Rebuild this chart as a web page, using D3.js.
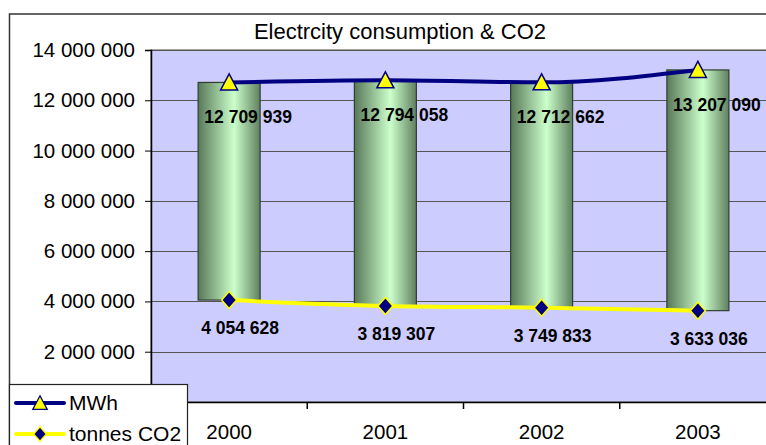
<!DOCTYPE html>
<html>
<head>
<meta charset="utf-8">
<script src="https://cdn.jsdelivr.net/npm/d3@7"></script>
<style>
	body { margin: 0; background: #fff; }
	svg { display: block; font-family: "Liberation Sans", Arial, sans-serif; }
</style>
</head>
<body>
<div id="chart"></div>
<script>
// data
const years = ["2000", "2001", "2002", "2003"];
const mwh = [12709939, 12794058, 12712662, 13207090];
const co2 = [4054628, 3819307, 3749833, 3633036];
const yTicks = [2000000, 4000000, 6000000, 8000000, 10000000, 12000000, 14000000];
const title = "Electrcity consumption & CO2";
const seriesNames = ["MWh", "tonnes CO2"];

const width = 766;
const height = 445;
const plot = { left: 151, right: 776, top: 50, bottom: 402 };

const svg = d3.select("#chart")
	.append("svg")
	.attr("width", width)
	.attr("height", height);

const fmt = (v) => d3.format(",")(v).replace(/,/g, " ");

const x = d3.scaleBand()
	.domain(years)
	.range([plot.left, plot.right]);

const y = d3.scaleLinear()
	.domain([0, 14000000])
	.range([plot.bottom, plot.top]);

// gradient for the cylinders
const defs = svg.append("defs");
const grad = defs.append("linearGradient")
	.attr("id", "barGrad")
	.attr("x1", "0%").attr("x2", "100%")
	.attr("y1", "0%").attr("y2", "0%");
grad.append("stop").attr("offset", "0%").attr("stop-color", "#587858");
grad.append("stop").attr("offset", "58%").attr("stop-color", "#ccffcc");
grad.append("stop").attr("offset", "100%").attr("stop-color", "#5f805f");

// outer chart frame
svg.append("rect")
	.attr("x", 9.5)
	.attr("y", 14)
	.attr("width", 800)
	.attr("height", 500)
	.attr("fill", "#fff")
	.attr("stroke", "#333")
	.attr("stroke-width", 1.5);

// title
svg.append("text")
	.attr("x", 400)
	.attr("y", 39)
	.attr("text-anchor", "middle")
	.attr("font-size", 22)
	.attr("fill", "#000")
	.text(title);

// plot area
svg.append("rect")
	.attr("x", plot.left)
	.attr("y", plot.top)
	.attr("width", plot.right - plot.left)
	.attr("height", plot.bottom - plot.top)
	.attr("fill", "#ccccff")
	.attr("stroke", "#888")
	.attr("stroke-width", 1.5);

// gridlines
svg.append("g")
	.selectAll("line")
	.data(yTicks)
	.enter()
	.append("line")
	.attr("x1", plot.left)
	.attr("x2", plot.right)
	.attr("y1", (d) => Math.round(y(d)) + 0.5)
	.attr("y2", (d) => Math.round(y(d)) + 0.5)
	.attr("stroke", "#555")
	.attr("stroke-width", 1);

// y axis
const yAxis = svg.append("g")
	.attr("transform", "translate(" + plot.left + ",0)")
	.call(d3.axisLeft(y)
		.tickValues(yTicks)
		.tickSize(6)
		.tickPadding(10)
		.tickFormat(fmt));
yAxis.select(".domain").attr("stroke", "#000").attr("stroke-width", 1.5);
yAxis.selectAll(".tick line").attr("stroke", "#000");
yAxis.selectAll("text")
	.attr("font-size", 20.5)
	.attr("font-family", "Liberation Sans, Arial, sans-serif")
	.attr("fill", "#000");

// x axis
const xAxis = svg.append("g")
	.attr("transform", "translate(0," + plot.bottom + ")")
	.call(d3.axisBottom(x).tickSize(0).tickPadding(22));
xAxis.select(".domain").attr("stroke", "#000").attr("stroke-width", 1.5);
xAxis.selectAll("text")
	.attr("font-size", 20.5)
	.attr("font-family", "Liberation Sans, Arial, sans-serif")
	.attr("fill", "#000");

// category separators on the x axis
svg.append("g")
	.selectAll("line")
	.data(years)
	.enter()
	.append("line")
	.attr("x1", (d) => x(d))
	.attr("x2", (d) => x(d))
	.attr("y1", plot.bottom)
	.attr("y2", plot.bottom + 7)
	.attr("stroke", "#000")
	.attr("stroke-width", 1.5);

// floating cylinders from CO2 to MWh
const barW = 62;
svg.append("g")
	.selectAll("rect")
	.data(years)
	.enter()
	.append("rect")
	.attr("x", (d) => x(d) + x.bandwidth() / 2 - barW / 2)
	.attr("width", barW)
	.attr("y", (d, i) => y(mwh[i]))
	.attr("height", (d, i) => y(co2[i]) - y(mwh[i]))
	.attr("fill", "url(#barGrad)")
	.attr("stroke", "#2f3f2f")
	.attr("stroke-width", 1.2);

const cx = (d) => x(d) + x.bandwidth() / 2;

// lines
const line = d3.line()
	.x((d) => cx(d.year))
	.y((d) => y(d.value))
	.curve(d3.curveMonotoneX);

const mwhPts = years.map((yr, i) => ({ year: yr, value: mwh[i] }));
const co2Pts = years.map((yr, i) => ({ year: yr, value: co2[i] }));

svg.append("path")
	.datum(co2Pts)
	.attr("d", line)
	.attr("fill", "none")
	.attr("stroke", "#ffff00")
	.attr("stroke-width", 4);

svg.append("path")
	.datum(mwhPts)
	.attr("d", line)
	.attr("fill", "none")
	.attr("stroke", "#000080")
	.attr("stroke-width", 4);

// markers
const triangle = "M0,-8.5 L8.5,7.5 L-8.5,7.5 Z";
const diamond = "M0,-8.5 L7.5,0 L0,8.5 L-7.5,0 Z";

svg.append("g")
	.selectAll("path")
	.data(mwhPts)
	.enter()
	.append("path")
	.attr("d", triangle)
	.attr("transform", (d) => "translate(" + cx(d.year) + "," + y(d.value) + ")")
	.attr("fill", "#ffff00")
	.attr("stroke", "#000080")
	.attr("stroke-width", 1.5);

svg.append("g")
	.selectAll("path")
	.data(co2Pts)
	.enter()
	.append("path")
	.attr("d", diamond)
	.attr("transform", (d) => "translate(" + cx(d.year) + "," + y(d.value) + ")")
	.attr("fill", "#000080")
	.attr("stroke", "#ffff00")
	.attr("stroke-width", 1.5);

// data labels
svg.append("g")
	.selectAll("text")
	.data(mwhPts)
	.enter()
	.append("text")
	.attr("x", (d) => cx(d.year) + 19)
	.attr("y", (d) => y(d.value) + 41)
	.attr("text-anchor", "middle")
	.attr("font-size", 17.5)
	.attr("font-weight", "bold")
	.text((d) => fmt(d.value));

svg.append("g")
	.selectAll("text")
	.data(co2Pts)
	.enter()
	.append("text")
	.attr("x", (d) => cx(d.year) + 11)
	.attr("y", (d) => y(d.value) + 34)
	.attr("text-anchor", "middle")
	.attr("font-size", 17.5)
	.attr("font-weight", "bold")
	.text((d) => fmt(d.value));

// legend
const legend = svg.append("g");
legend.append("rect")
	.attr("x", 9.5)
	.attr("y", 384.5)
	.attr("width", 178)
	.attr("height", 80)
	.attr("fill", "#fff")
	.attr("stroke", "#222")
	.attr("stroke-width", 1.2);

const legendItems = [
	{ name: seriesNames[0], color: "#000080", marker: triangle, mFill: "#ffff00", mStroke: "#000080" },
	{ name: seriesNames[1], color: "#ffff00", marker: diamond, mFill: "#000080", mStroke: "#ffff00" }
];

legendItems.forEach((it, i) => {
	const ly = 403 + i * 31;
	legend.append("line")
		.attr("x1", 16).attr("x2", 64)
		.attr("y1", ly).attr("y2", ly)
		.attr("stroke", it.color)
		.attr("stroke-width", 4)
		.attr("stroke-linecap", "round");
	legend.append("path")
		.attr("d", it.marker)
		.attr("transform", "translate(40," + ly + ") scale(0.85)")
		.attr("fill", it.mFill)
		.attr("stroke", it.mStroke)
		.attr("stroke-width", 1.5);
	legend.append("text")
		.attr("x", 69)
		.attr("y", ly + 7)
		.attr("font-size", 21)
		.text(it.name);
});
</script>
</body>
</html>
